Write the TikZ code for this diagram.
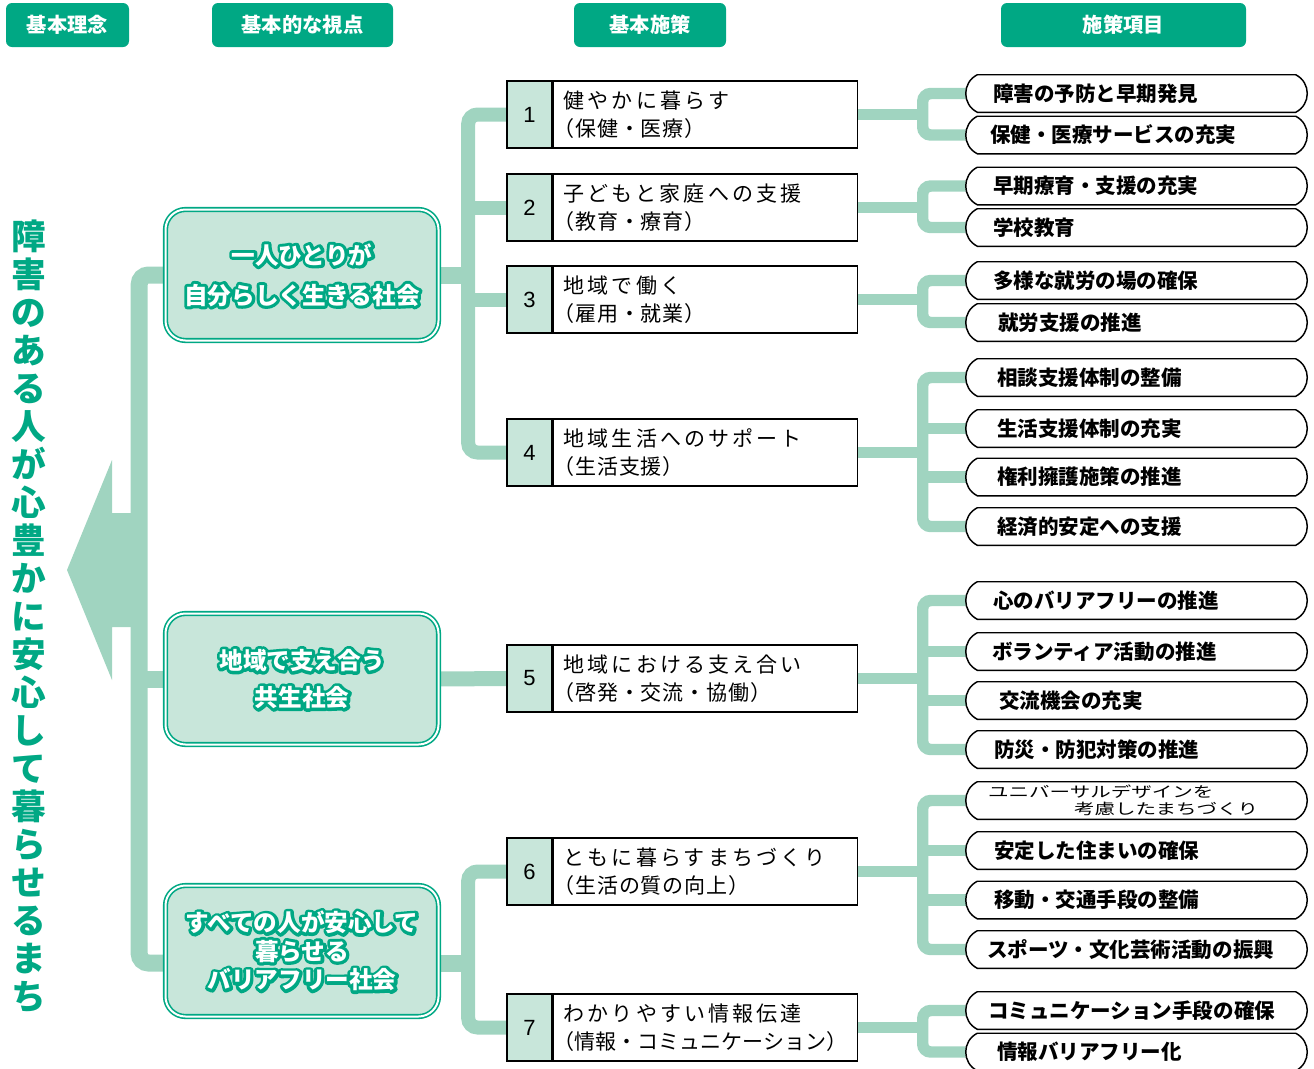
\documentclass[tikz,border=0pt]{standalone}
\usepackage{fontspec}
\usepackage{graphicx}
\setmainfont{Noto Sans CJK JP}
\newfontfamily\polfont{Noto Sans CJK JP}[LetterSpace=15]
\newfontfamily\poltwo{Noto Sans CJK JP}[LetterSpace=4]
\newfontfamily\numfont{Liberation Sans}
\usetikzlibrary{calc}
\definecolor{mteal}{HTML}{00A884}
\definecolor{lgreen}{HTML}{A0D4C0}
\definecolor{mint}{HTML}{C8E6DA}
\newcommand\PX{0.75pt}
% white text with a teal outline: one stroked copy under the filled text
\newcommand\vpt[1]{\leavevmode\rlap{\special{pdf:literal 1 Tr 4.6 w 1 j 1 J}\textcolor{mteal}{#1}\special{pdf:literal 0 Tr 0.4 w 0 j 0 J}}#1}
\newcommand\ptwo[1]{\hspace*{-7.5pt}{\poltwo #1}}
\pgfdeclarelayer{bg}
\pgfsetlayers{bg,main}
\tikzset{
  hdr/.style={fill=mteal, rounded corners=4.5pt, text=white, inner sep=0pt,
    minimum height=44*\PX, font=\fontsize{15.2}{18}\selectfont\bfseries},
  vpbox/.style={fill=mint, draw=mteal, line width=1.2pt, double=white, double distance=1.5pt,
    rounded corners=15pt, minimum width=273*\PX, minimum height=131*\PX, inner sep=0pt,
    align=center, text=white},
  pnum/.style={draw=black, line width=1.2pt, fill=mint, minimum width=45*\PX,
    minimum height=67*\PX, inner sep=0pt, font=\numfont\fontsize{16.5}{18}\selectfont},
  ptxt/.style={draw=black, line width=1.2pt, fill=white, minimum width=304*\PX,
    minimum height=67*\PX, inner xsep=7.5pt, inner ysep=0pt, text width=213pt,
    align=left, anchor=west, font=\fontsize{15.75}{21}\selectfont},
  item/.style={minimum width=341*\PX, minimum height=37*\PX, inner xsep=20.25pt,
    inner ysep=0pt, text width=215.25pt, align=left,
    font=\fontsize{15.4}{18}\selectfont\bfseries},
  pillline/.style={draw=black, line width=1.1pt},
  cA/.style={draw=lgreen, line width=12.75pt},
  cM/.style={draw=lgreen, line width=11.25pt},
  cB/.style={draw=lgreen, line width=10.5pt},
  cC/.style={draw=lgreen, line width=8.6pt},
}
\begin{document}
\begin{tikzpicture}[x=0.75pt, y=-0.75pt]
\useasboundingbox (0,0) rectangle (1314,1068);

% headers
\node[hdr, minimum width=123*\PX] (h1) at (67.5,25) {基本理念};
\node[hdr, minimum width=181*\PX] (h2) at (302.5,25) {基本的な視点};
\node[hdr, minimum width=152*\PX] (h3) at (650,25) {基本施策};
\node[hdr, minimum width=245*\PX] (h4) at (1123.5,25) {施策項目};

% vertical principle text
\node[text=mteal, align=center, inner sep=0pt, font=\fontsize{26}{28.5}\selectfont\bfseries] (vt) at (29,616.5)
 {障\\害\\の\\あ\\る\\人\\が\\心\\豊\\か\\に\\安\\心\\し\\て\\暮\\ら\\せ\\る\\ま\\ち};

% viewpoint boxes
\node[vpbox, font=\fontsize{17.7}{30}\selectfont\bfseries] (v1) at (302,275)
 {\vpt{一人ひとりが}\\\vpt{自分らしく生きる社会}};
\node[vpbox, font=\fontsize{17.7}{27.75}\selectfont\bfseries] (v2) at (302,679)
 {\vpt{地域で支え合う}\\\vpt{共生社会}};
\node[vpbox, font=\fontsize{17.7}{21.4}\selectfont\bfseries] (v3) at (302,951)
 {\vpt{すべての人が安心して}\\\vpt{暮らせる}\\\vpt{バリアフリー社会}};

% policies
\node[pnum] (p1n) at (529.5,114.5) {1};
\node[ptxt] (p1t) at (p1n.east) {{\polfont 健やかに暮らす}\\\ptwo{（保健・医療）}};
\node[pnum] (p2n) at (529.5,207.5) {2};
\node[ptxt] (p2t) at (p2n.east) {{\polfont 子どもと家庭への支援}\\\ptwo{（教育・療育）}};
\node[pnum] (p3n) at (529.5,299.5) {3};
\node[ptxt] (p3t) at (p3n.east) {{\polfont 地域で働く}\\\ptwo{（雇用・就業）}};
\node[pnum] (p4n) at (529.5,452.5) {4};
\node[ptxt] (p4t) at (p4n.east) {{\polfont 地域生活へのサポート}\\\ptwo{（生活支援）}};
\node[pnum] (p5n) at (529.5,678.5) {5};
\node[ptxt] (p5t) at (p5n.east) {{\polfont 地域における支え合い}\\\ptwo{（啓発・交流・協働）}};
\node[pnum] (p6n) at (529.5,871.5) {6};
\node[ptxt] (p6t) at (p6n.east) {{\polfont ともに暮らすまちづくり}\\\ptwo{（生活の質の向上）}};
\node[pnum] (p7n) at (529.5,1027.5) {7};
\node[ptxt] (p7t) at (p7n.east) {{\polfont わかりやすい情報伝達}\\\hspace*{-7.5pt}（情報・コミュニケーション）};

% items
\node[item] (i1) at (1136.5,93.5) {障害の予防と早期発見};
\node[item] (i2) at (1136.5,135) {\hspace*{-2.25pt}保健・医療サービスの充実};
\node[item] (i3) at (1136.5,186) {早期療育・支援の充実};
\node[item] (i4) at (1136.5,227.5) {学校教育};
\node[item] (i5) at (1136.5,280.5) {多様な就労の場の確保};
\node[item] (i6) at (1136.5,322.5) {\hspace*{3.75pt}就労支援の推進};
\node[item] (i7) at (1136.5,377.5) {\hspace*{3pt}相談支援体制の整備};
\node[item] (i8) at (1136.5,428.5) {\hspace*{3pt}生活支援体制の充実};
\node[item] (i9) at (1136.5,477) {\hspace*{3pt}権利擁護施策の推進};
\node[item] (i10) at (1136.5,526.5) {\hspace*{3pt}経済的安定への支援};
\node[item] (i11) at (1136.5,600.5) {心のバリアフリーの推進};
\node[item] (i12) at (1136.5,651.5) {\hspace*{-0.75pt}ボランティア活動の推進};
\node[item] (i13) at (1136.5,700.5) {\hspace*{4.5pt}交流機会の充実};
\node[item] (i14) at (1136.5,749.5) {\hspace*{0.75pt}防災・防犯対策の推進};
\node[item, font=\fontsize{15.4}{12.75}\selectfont] (i15) at (1136.5,800.5)
 {\hspace*{-3.75pt}\scalebox{1}[0.72]{ユニバーサルデザインを}\\\hspace*{60.75pt}\scalebox{1}[0.72]{考慮したまちづくり}};
\node[item] (i16) at (1136.5,850.5) {\hspace*{0.75pt}安定した住まいの確保};
\node[item] (i17) at (1136.5,900) {\hspace*{0.75pt}移動・交通手段の整備};
\node[item] (i18) at (1136.5,949.5) {\hspace*{-4.5pt}スポーツ・文化芸術活動の振興};
\node[item] (i19) at (1136.5,1010.5) {\hspace*{-3.75pt}コミュニケーション手段の確保};
\node[item] (i20) at (1136.5,1052) {\hspace*{3pt}情報バリアフリー化};

\foreach \n in {i1,i2,i3,i4,i5,i6,i7,i8,i9,i10,i11,i12,i13,i14,i15,i16,i17,i18,i19,i20} {
  \draw[pillline] ($(\n.north west)+(11.56,0)$) -- ($(\n.north east)+(-11.56,0)$)
    .. controls ($(\n.east)+(3.85,-10.98)$) and ($(\n.east)+(3.85,10.98)$) .. ($(\n.south east)+(-11.56,0)$)
    -- ($(\n.south west)+(11.56,0)$)
    .. controls ($(\n.west)+(-3.85,10.98)$) and ($(\n.west)+(-3.85,-10.98)$) .. cycle;
}

\begin{pgfonlayer}{bg}
  % big arrow
  \fill[lgreen] (67,570) -- (112,460) -- (112,513) -- (140,513) -- (140,627) -- (112,627) -- (112,680) -- cycle;
  % left trunk
  \draw[cA, rounded corners=7pt] (v1.west) -- ++(-25.5,0) |- ($(v3.west)+(0,12)$);
  \draw[cA] (v2.west) -- ++(-25.5,0);
  % viewpoint -> policies
  \draw[cA] (v1.east) -- ++(31,0);
  \draw[cB, rounded corners=7pt] (p1n.west) -- ++(-38,0) |- (p4n.west);
  \draw[cB] (p2n.west) -- ++(-38,0);
  \draw[cB] (p3n.west) -- ++(-38,0);
  \draw[cM] (v2.east) -- (p5n.west);
  \draw[cA] ($(v3.east)+(0,12)$) -- ++(31,0);
  \draw[cB, rounded corners=7pt] (p6n.west) -- ++(-38,0) |- (p7n.west);
  % policies -> items
  \draw[cC] (p1t.east) -- ++(67,0);
  \draw[cC, rounded corners=6pt] (i1.west) -- ++(-43,0) |- (i2.west);
  \draw[cC] (p2t.east) -- ++(67,0);
  \draw[cC, rounded corners=6pt] (i3.west) -- ++(-43,0) |- (i4.west);
  \draw[cC] (p3t.east) -- ++(67,0);
  \draw[cC, rounded corners=6pt] (i5.west) -- ++(-43,0) |- (i6.west);
  \draw[cC] (p4t.east) -- ++(67,0);
  \draw[cC, rounded corners=6pt] (i7.west) -- ++(-43,0) |- (i10.west);
  \draw[cC] (i8.west) -- ++(-43,0);
  \draw[cC] (i9.west) -- ++(-43,0);
  \draw[cC] (p5t.east) -- ++(67,0);
  \draw[cC, rounded corners=6pt] (i11.west) -- ++(-43,0) |- (i14.west);
  \draw[cC] (i12.west) -- ++(-43,0);
  \draw[cC] (i13.west) -- ++(-43,0);
  \draw[cC] (p6t.east) -- ++(67,0);
  \draw[cC, rounded corners=6pt] (i15.west) -- ++(-43,0) |- (i18.west);
  \draw[cC] (i16.west) -- ++(-43,0);
  \draw[cC] (i17.west) -- ++(-43,0);
  \draw[cC] (p7t.east) -- ++(67,0);
  \draw[cC, rounded corners=6pt] (i19.west) -- ++(-43,0) |- (i20.west);
\end{pgfonlayer}
\end{tikzpicture}
\end{document}
